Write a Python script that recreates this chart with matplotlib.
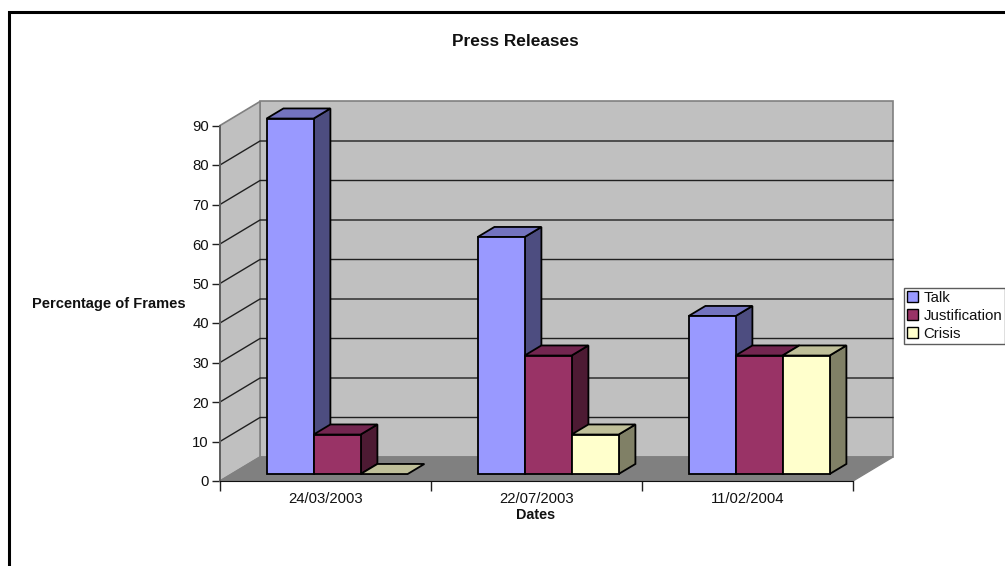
import matplotlib
matplotlib.use('Agg')
import matplotlib.pyplot as plt
from matplotlib.patches import Patch, Polygon

plt.rcParams['font.family'] = ['Liberation Sans', 'DejaVu Sans']

# Press release frames per date
dates = ['24/03/2003', '22/07/2003', '11/02/2004']
series_names = ['Talk', 'Justification', 'Crisis']
talk = [90, 60, 40]
justification = [10, 30, 30]
crisis = [0, 10, 30]
y_ticks = [0, 10, 20, 30, 40, 50, 60, 70, 80, 90]

front_colors = ['#9999ff', '#993366', '#ffffcc']
top_colors = ['#7373bf', '#732650', '#bfbf99']
side_colors = ['#4d4d80', '#4d1a33', '#808066']

W, H = 1005, 566
fig = plt.figure(figsize=(W / 100, H / 100), dpi=100, facecolor='white')

# axes rect is the front plane of the box
ax = fig.add_axes([220 / W, (H - 481) / H, 633 / W, 355.5 / H])
ax.set_xlim(0, 3)
ax.set_ylim(0, 90)
ax.patch.set_visible(False)

# oblique depth of the box, in data units
depth_x = 40 / 211
depth_y = 24 / 3.95
wall_top = y_ticks[-1]


def project(x, y, d):
    # d runs from 0 at the front plane to 1 at the back wall
    return (x + d * depth_x, y + d * depth_y)


def face(points, **kw):
    ax.add_patch(Polygon([project(*p) for p in points], closed=True, clip_on=False, **kw))


wall = dict(facecolor='#c0c0c0', edgecolor='#808080', linewidth=1.2, joinstyle='miter')
face([(0, 0, 1), (3, 0, 1), (3, wall_top, 1), (0, wall_top, 1)], zorder=1, **wall)
face([(0, 0, 0), (0, 0, 1), (0, wall_top, 1), (0, wall_top, 0)], zorder=1, **wall)
face([(0, 0, 0), (3, 0, 0), (3, 0, 1), (0, 0, 1)], zorder=2,
     facecolor='#808080', edgecolor='#808080', linewidth=1)

# gridlines run along the side wall and the back wall
for v in y_ticks[1:-1]:
    pts = [project(0, v, 0), project(0, v, 1), project(3, v, 1)]
    ax.plot(*zip(*pts), color='#202020', lw=1.0, zorder=3, clip_on=False)

bar_w = 47 / 211
d0, d1 = 0.29, 0.71
series = [talk, justification, crisis]
edge = dict(edgecolor='black', linewidth=1.3, joinstyle='miter')

for i in range(len(dates)):
    start = i + 35 / 211
    for s in range(3):
        left = start + s * bar_w
        right = left + bar_w
        v = series[s][i]
        z = 10 + i * 10 + s
        if v > 0:
            face([(left, 0, d0), (right, 0, d0), (right, v, d0), (left, v, d0)],
                 facecolor=front_colors[s], zorder=z + 0.3, **edge)
            face([(right, 0, d0), (right, 0, d1), (right, v, d1), (right, v, d0)],
                 facecolor=side_colors[s], zorder=z + 0.1, **edge)
        face([(left, v, d0), (right, v, d0), (right, v, d1), (left, v, d1)],
             facecolor=top_colors[s], zorder=z + 0.2, **edge)

ax.set_yticks(y_ticks)
ax.set_xticks([0, 1, 2, 3])
ax.set_xticklabels([])
ax.set_xticks([0.5, 1.5, 2.5], minor=True)
ax.set_xticklabels(dates, minor=True)
ax.tick_params(axis='y', length=6, width=1, labelsize=10.7, pad=2, color='#202020', labelcolor='#111111')
ax.tick_params(axis='x', which='major', length=7, width=1, color='#202020')
ax.tick_params(axis='x', which='minor', length=0, labelsize=10.7, pad=8, labelcolor='#111111')
for side in ['top', 'right']:
    ax.spines[side].set_visible(False)
ax.spines['left'].set_color('#606060')
ax.spines['left'].set_linewidth(1.4)
ax.spines['left'].set_zorder(4)
ax.spines['bottom'].set_color('#101010')
ax.spines['bottom'].set_zorder(4)

fig.text(515 / W, 1 - 41 / H, 'Press Releases', ha='center', va='center',
         fontsize=12.4, fontweight='bold', color='#111111')
fig.text(108.5 / W, 1 - 304 / H, 'Percentage of Frames', ha='center', va='center',
         fontsize=10.5, fontweight='bold', color='#111111')
fig.text(535.5 / W, 1 - 515 / H, 'Dates', ha='center', va='center',
         fontsize=10.4, fontweight='bold', color='#111111')

handles = [Patch(facecolor=c, edgecolor='black', linewidth=1) for c in front_colors]
leg = fig.legend(handles, series_names, loc='lower left',
                 bbox_to_anchor=(904 / W, (H - 344) / H, 101 / W, 54 / H), mode='expand',
                 fontsize=10.8, frameon=True, fancybox=False, borderaxespad=0, borderpad=0.2,
                 labelspacing=0.27, handlelength=0.75, handleheight=0.75, handletextpad=0.35,
                 labelcolor='#111111')
leg.get_frame().set_edgecolor('#333333')
leg.get_frame().set_linewidth(1)

# chart border, open on the right and along the bottom edge
fig.add_artist(plt.Line2D([8.5 / W, 8.5 / W, 1], [0, 1 - 12 / H, 1 - 12 / H],
                          color='black', lw=2.2, solid_joinstyle='miter'))

fig.savefig('out.png', dpi=100)
